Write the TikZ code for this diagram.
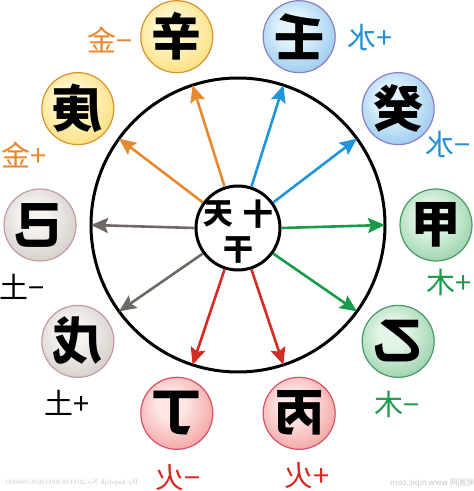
\documentclass[tikz,border=0pt]{standalone}
\usepackage{fontspec}
\usepackage{graphicx}
\usetikzlibrary{arrows.meta,calc}
\newfontfamily\cjk{Noto Sans CJK SC}
\definecolor{orangeA}{HTML}{E58A2E}
\definecolor{blueA}{HTML}{1E96D9}
\definecolor{grayA}{HTML}{6F6865}
\definecolor{redA}{HTML}{D42B25}
\definecolor{greenA}{HTML}{199A4B}
\definecolor{orangeT}{HTML}{E8872C}
\definecolor{blueT}{HTML}{2291D2}
\definecolor{greenT}{HTML}{1F9A4C}
\definecolor{redT}{HTML}{D7281E}
\definecolor{yc1}{HTML}{FFF6CC}\definecolor{yc2}{HTML}{F8CC3C}\definecolor{yc3}{HTML}{F0B428}\definecolor{yB}{HTML}{D9922E}
\definecolor{bc1}{HTML}{E3F3FC}\definecolor{bc2}{HTML}{5BA8E2}\definecolor{bc3}{HTML}{3A7FCC}\definecolor{bB}{HTML}{8C7FC8}
\definecolor{gc1}{HTML}{F6F2EE}\definecolor{gc2}{HTML}{B9B1AA}\definecolor{gc3}{HTML}{A0968F}\definecolor{gB}{HTML}{C49BA5}
\definecolor{nc1}{HTML}{E2F5E7}\definecolor{nc2}{HTML}{5FB57A}\definecolor{nc3}{HTML}{3E9A5C}\definecolor{nB}{HTML}{4A9A66}
\definecolor{rc1}{HTML}{FDE6E4}\definecolor{rc2}{HTML}{EC6E6C}\definecolor{rc3}{HTML}{DC4A4A}\definecolor{rB}{HTML}{D9506A}
\pgfdeclareradialshading{ballY}{\pgfpoint{-5bp}{7bp}}{color(0bp)=(yc1); color(10bp)=(yc1); color(48bp)=(yc2); color(62bp)=(yc3)}
\pgfdeclareradialshading{ballB}{\pgfpoint{-5bp}{7bp}}{color(0bp)=(bc1); color(10bp)=(bc1); color(48bp)=(bc2); color(62bp)=(bc3)}
\pgfdeclareradialshading{ballG}{\pgfpoint{-5bp}{7bp}}{color(0bp)=(gc1); color(10bp)=(gc1); color(48bp)=(gc2); color(62bp)=(gc3)}
\pgfdeclareradialshading{ballN}{\pgfpoint{-5bp}{7bp}}{color(0bp)=(nc1); color(10bp)=(nc1); color(48bp)=(nc2); color(62bp)=(nc3)}
\pgfdeclareradialshading{ballR}{\pgfpoint{-5bp}{7bp}}{color(0bp)=(rc1); color(10bp)=(rc1); color(48bp)=(rc2); color(62bp)=(rc3)}
\begin{document}
\begin{tikzpicture}[x=1pt,y=1pt,
  arr/.style={line width=2.6pt,-{Stealth[length=17pt,width=15pt,inset=3pt]}},
  ball/.style={circle,minimum size=72pt,inner sep=0pt,line width=1.2pt,shade,
    font=\cjk\bfseries\fontsize{50}{50}\selectfont},
  lab/.style={font=\cjk\fontsize{29}{29}\selectfont,inner sep=0pt},
  ctext/.style={font=\cjk\bfseries\fontsize{30}{30}\selectfont,inner sep=0pt},
  wmark/.style={text=gray!45,inner sep=0pt}
]
\useasboundingbox (0,0) rectangle (474,491);
\coordinate (O) at (238,266);
\node[circle,draw,line width=3pt,minimum size=294pt,inner sep=0pt,outer sep=0pt] (big) at (O) {};
\node[circle,draw,line width=3pt,minimum size=84pt,fill=white,inner sep=0pt] (c) at (238,263) {};
\foreach \a/\col in {0/greenA,36/blueA,72/blueA,108/orangeA,144/orangeA,180/grayA,216/grayA,252/redA,288/redA,324/greenA}
  \draw[arr,draw=\col,color=\col] (c.\a) -- (big.\a);
% centre text
\node[ctext] (tian) at (218,277) {\reflectbox{天}};
\node[ctext] (shi) at (258,277) {\reflectbox{十}};
\node[ctext] (gan) at (238,241) {\reflectbox{干}};
% balls
\node[ball,draw=yB,shading=ballY] (xin)  at ($(O)+(108:198)$) {\reflectbox{辛}};
\node[ball,draw=bB,shading=ballB] (ren)  at ($(O)+(72:198)$)  {\reflectbox{壬}};
\node[ball,draw=bB,shading=ballB] (gui)  at ($(O)+(36:198)$)  {\reflectbox{癸}};
\node[ball,draw=nB,shading=ballN] (jia)  at ($(O)+(0:198)$)   {\reflectbox{甲}};
\node[ball,draw=nB,shading=ballN] (yi)   at ($(O)+(-36:198)$) {\reflectbox{乙}};
\node[ball,draw=rB,shading=ballR] (bing) at ($(O)+(-72:198)$) {\reflectbox{丙}};
\node[ball,draw=rB,shading=ballR] (ding) at ($(O)+(-108:198)$) {\reflectbox{丁}};
\node[ball,draw=gB,shading=ballG] (wu)   at ($(O)+(-144:198)$) {\reflectbox{戊}};
\node[ball,draw=gB,shading=ballG] (ji)   at ($(O)+(180:198)$) {\reflectbox{己}};
\node[ball,draw=yB,shading=ballY] (geng) at ($(O)+(144:198)$) {\reflectbox{庚}};
% labels
\node[lab,text=orangeT] (l1) at (110,451) {\reflectbox{金}−};
\node[lab,text=orangeT] (l2) at (24,336) {\reflectbox{金}+};
\node[lab,text=blueT] (l3) at (370,453) {\reflectbox{水}+};
\node[lab,text=blueT] (l4) at (448,346) {\reflectbox{水}−};
\node[lab,text=greenT] (l5) at (449,209) {\reflectbox{木}+};
\node[lab,text=greenT] (l6) at (397,87) {\reflectbox{木}−};
\node[lab,text=black] (l7) at (22,204) {\reflectbox{土}−};
\node[lab,text=black] (l8) at (67,88) {\reflectbox{土}+};
\node[lab,text=redT] (l9) at (178,13) {\reflectbox{火}−};
\node[lab,text=redT] (l10) at (307,15) {\reflectbox{火}+};
% watermarks
\node[wmark,font=\fontsize{7}{7}\selectfont] (wm1) at (72,8) {\reflectbox{By:kzpdqh No:20110830093636398000}};
\node[wmark,font=\cjk\fontsize{8}{8}\selectfont,anchor=east] (wm2) at (474,8) {\reflectbox{昵图网 www.nipic.com}};
\end{tikzpicture}
\end{document}
